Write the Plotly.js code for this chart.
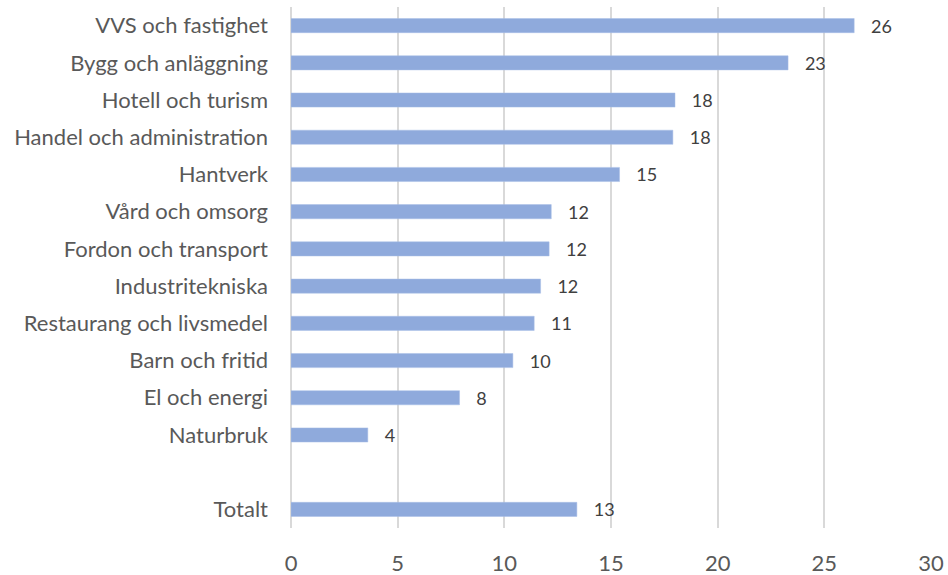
<!DOCTYPE html>
<html>
<head>
<meta charset="utf-8">
<script src="https://cdn.plot.ly/plotly-3.0.1.min.js"></script>
<style>html,body{margin:0;padding:0;background:#fff;}#chart{width:948px;height:575px;}</style>
</head>
<body>
<div id="chart"></div>
<script>
const categories = [
  "VVS och fastighet",
  "Bygg och anläggning",
  "Hotell och turism",
  "Handel och administration",
  "Hantverk",
  "Vård och omsorg",
  "Fordon och transport",
  "Industritekniska",
  "Restaurang och livsmedel",
  "Barn och fritid",
  "El och energi",
  "Naturbruk",
  " ",
  "Totalt"
];
const values = [26.4, 23.3, 18.0, 17.9, 15.4, 12.2, 12.1, 11.7, 11.4, 10.4, 7.9, 3.6, null, 13.4];
const xTicks = [0, 5, 10, 15, 20, 25, 30];

const FONT = "Lato, 'Open Sans', sans-serif";
const NB = "\u00a0\u00a0\u00a0";

const trace = {
  type: "bar",
  orientation: "h",
  x: values,
  y: categories,
  width: 0.38,
  marker: { color: "#8faadc", line: { color: "#a9bfe6", width: 0.5 } },
  texttemplate: NB + "%{x:.0f}",
  textposition: "outside",
  constraintext: "none",
  cliponaxis: false,
  textfont: { family: FONT, size: 18, color: "#404040" },
  hoverinfo: "skip"
};

const layout = {
  width: 948,
  height: 575,
  margin: { l: 291, r: 17, t: 7, b: 47 },
  paper_bgcolor: "#ffffff",
  plot_bgcolor: "#ffffff",
  showlegend: false,
  font: { family: FONT, color: "#595959" },
  xaxis: {
    range: [0, 30],
    tickvals: xTicks,
    ticktext: xTicks.map(String),
    showgrid: true,
    gridcolor: "#d9d9d9",
    gridwidth: 2,
    zeroline: true,
    zerolinecolor: "#d9d9d9",
    zerolinewidth: 2,
    showline: false,
    ticks: "",
    ticklabelstandoff: 20,
    tickfont: { family: FONT, size: 22, color: "#595959" },
    fixedrange: true
  },
  yaxis: {
    type: "category",
    categoryorder: "array",
    categoryarray: categories,
    range: [13.5, -0.5],
    showgrid: false,
    zeroline: false,
    showline: false,
    ticks: "",
    ticklabelstandoff: 22,
    tickfont: { family: FONT, size: 22, color: "#595959" },
    fixedrange: true
  }
};

Plotly.newPlot("chart", [trace], layout, { staticPlot: true, displayModeBar: false });
</script>
</body>
</html>
